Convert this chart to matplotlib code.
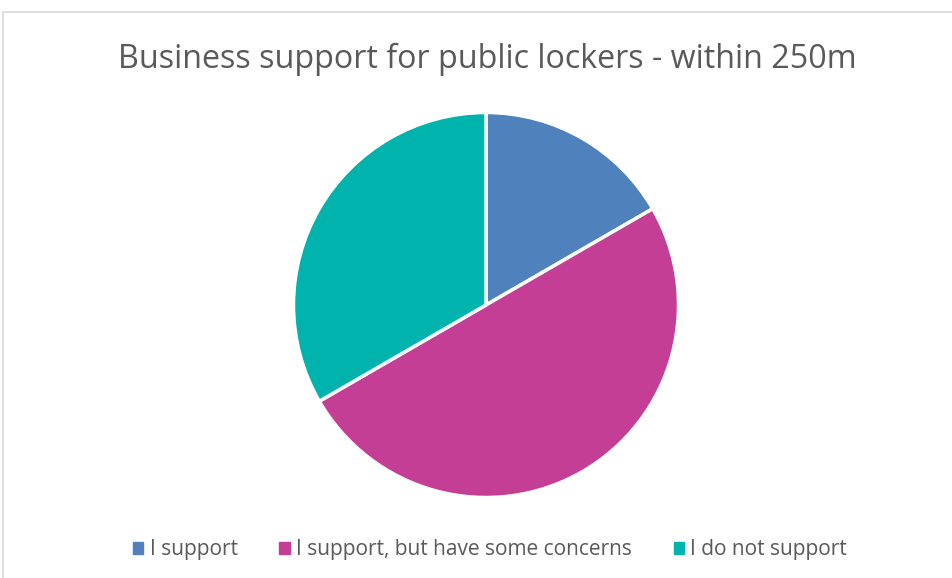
import matplotlib.pyplot as plt
from matplotlib.patches import Rectangle

categories = ["I support", "I support, but have some concerns", "I do not support"]
values = [1, 3, 2]
colors = ["#4F81BD", "#C43E96", "#00B3AD"]
title = "Business support for public lockers - within 250m"

W, H = 952, 578
fig = plt.figure(figsize=(W/100, H/100), dpi=100)
fig.patch.set_facecolor("white")

# chart border (cut off at right/bottom)
fig.patches.append(Rectangle((3/W, -0.1), 1.2, (H-12)/H + 0.1, transform=fig.transFigure,
                             fill=False, edgecolor="#D9D9D9", linewidth=1.2))

cx, cy, r = 486, 305, 192.5
ax = fig.add_axes([(cx-r)/W, (H-cy-r)/H, 2*r/W, 2*r/H])
ax.pie(values, colors=colors, startangle=90, counterclock=False,
       wedgeprops=dict(edgecolor="white", linewidth=2.5), radius=1)
ax.set_xlim(-1, 1); ax.set_ylim(-1, 1)
ax.set_aspect("auto")
ax.axis("off")

fig.text(487/W, 1-59/H, title, ha="center", va="center", fontsize=23.2,
         color="#595959", family="Open Sans")

handles = [Rectangle((0, 0), 1, 1, color=c) for c in colors]
leg = fig.legend(handles, categories, loc="center", bbox_to_anchor=(490/W, 1-550/H),
                 ncol=3, frameon=False, handlelength=0.5, handleheight=0.5,
                 handletextpad=0.3, columnspacing=2.0,
                 prop=dict(family="Open Sans", size=15))
for t in leg.get_texts():
    t.set_color("#595959")

fig.savefig("out.png", dpi=100, facecolor="white")
